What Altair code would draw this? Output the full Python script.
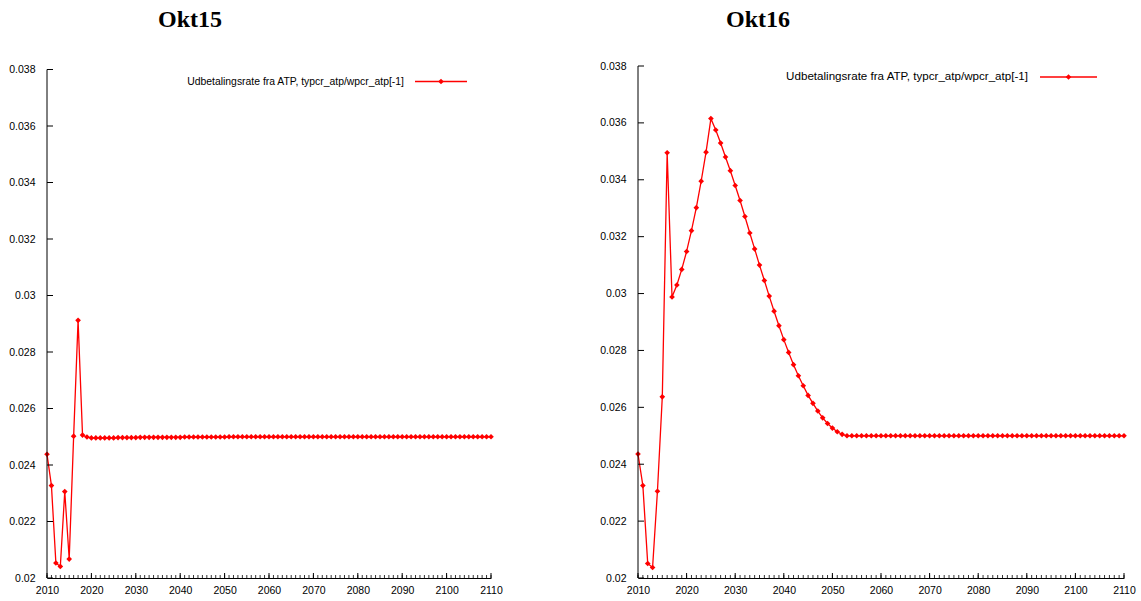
import altair as alt
import pandas as pd

# Payout rate from ATP, one value per year
years = list(range(2010, 2111))

okt15_rate = (
    [0.02438, 0.02327, 0.02053, 0.02041, 0.02306, 0.02067, 0.02502, 0.02912, 0.02506, 0.02499]
    + [0.02496] * 6
    + [0.02497] * 5
    + [0.02498] * 10
    + [0.02499] * 10
    + [0.025] * 60
)

okt16_rate = (
    [0.02436, 0.02325, 0.02051, 0.02037, 0.02305, 0.02637, 0.03495, 0.02988, 0.0303, 0.03085,
     0.03148, 0.03221, 0.03302, 0.03395, 0.03497, 0.03615, 0.03575, 0.03529, 0.0348, 0.03432,
     0.0338, 0.03327, 0.03271, 0.03213, 0.03157, 0.031, 0.03046, 0.02991, 0.02938, 0.02887,
     0.02838, 0.02793, 0.0275, 0.02711, 0.02676, 0.02642, 0.02614, 0.02587, 0.02563, 0.02543,
     0.02527, 0.02514, 0.02505, 0.025]
    + [0.025] * 57
)

x_ticks = list(range(2010, 2111, 10))
y_ticks = [0.02, 0.022, 0.024, 0.026, 0.028, 0.03, 0.032, 0.034, 0.036, 0.038]
series_label = "Udbetalingsrate fra ATP, typcr_atp/wpcr_atp[-1]"

RED = "#ff0000"
LABEL_FONT = "Liberation Sans"
TITLE_FONT = "Liberation Serif"
H = 512
LEFT_W, RIGHT_W, GAP = 444, 486, 147
PAD_L, PAD_T, PAD_R, PAD_B = 47, 66, 17, 23
MARKER = 32


def panel(rates, title, width, y_top, title_x, leg, tick_size, frame=False):
    df = pd.DataFrame({"year": years, "rate": rates})
    xs = alt.Scale(domain=[2010, 2110], nice=False, zero=False)
    ys = alt.Scale(domain=[0.02, y_top], nice=False, zero=False)

    x_axis = alt.Axis(values=x_ticks, format="d", ticks=False, tickSize=0,
                      grid=False, domain=True, domainColor="black", domainWidth=1,
                      labelFont=LABEL_FONT, labelFontSize=tick_size, labelColor="black",
                      labelPadding=7, labelFlush=False, labelOverlap=False)
    y_axis = alt.Axis(values=y_ticks, format="~g", ticks=False, tickSize=0,
                      grid=False, domain=False,
                      labelFont=LABEL_FONT, labelFontSize=tick_size, labelColor="black",
                      labelPadding=12, labelFlush=False, labelOverlap=False)

    line = alt.Chart(df).mark_line(
        color=RED, strokeWidth=1.3,
        point=alt.OverlayMarkDef(shape="diamond", filled=True, size=MARKER, color=RED),
    ).encode(
        x=alt.X("year:Q", scale=xs, title=None, axis=x_axis),
        y=alt.Y("rate:Q", scale=ys, title=None, axis=y_axis),
    )

    # left axis line from the lowest to the highest labelled value
    y_axis_line = alt.Chart(pd.DataFrame({"lo": [y_ticks[0]], "hi": [y_ticks[-1]]})).mark_rule(
        color="black", strokeWidth=1
    ).encode(
        x=alt.value(0),
        y=alt.Y("lo:Q", scale=ys, title=None, axis=y_axis),
        y2="hi:Q",
    )

    y_tick_marks = alt.Chart(pd.DataFrame({"v": y_ticks})).mark_rule(
        color="black", strokeWidth=1
    ).encode(
        y=alt.Y("v:Q", scale=ys, title=None, axis=y_axis),
        x=alt.value(0), x2=alt.value(6),
    )

    x_major = alt.Chart(pd.DataFrame({"v": x_ticks})).mark_rule(
        color="black", strokeWidth=1
    ).encode(
        x=alt.X("v:Q", scale=xs, title=None, axis=x_axis),
        y=alt.value(H), y2=alt.value(H - 5),
    )

    x_minor = alt.Chart(pd.DataFrame({"v": years})).mark_rule(
        color="black", strokeWidth=0.8
    ).encode(
        x=alt.X("v:Q", scale=xs, title=None, axis=x_axis),
        y=alt.value(H), y2=alt.value(H - 3),
    )

    heading = alt.Chart(pd.DataFrame({"t": [title]})).mark_text(
        font=TITLE_FONT, fontSize=24, fontWeight="bold", align="left",
        baseline="alphabetic", color="black",
    ).encode(text="t:N", x=alt.value(title_x), y=alt.value(-39))

    leg_text = alt.Chart(pd.DataFrame({"t": [series_label]})).mark_text(
        font=LABEL_FONT, fontSize=leg["size"], align="right", baseline="middle", color="black",
    ).encode(text="t:N", x=alt.value(leg["text_end"]), y=alt.value(leg["y"]))

    leg_line = alt.Chart(pd.DataFrame({"k": [0]})).mark_rule(
        color=RED, strokeWidth=1.3
    ).encode(x=alt.value(leg["x0"]), x2=alt.value(leg["x1"]), y=alt.value(leg["y"]))

    leg_point = alt.Chart(pd.DataFrame({"k": [0]})).mark_point(
        shape="diamond", filled=True, size=MARKER, color=RED, opacity=1
    ).encode(x=alt.value((leg["x0"] + leg["x1"]) / 2), y=alt.value(leg["y"]))

    layers = [line, x_minor, x_major, y_axis_line, y_tick_marks,
              heading, leg_text, leg_line, leg_point]

    if frame:
        # transparent page-sized backdrop that fixes the drawing's outer bounds
        backdrop = alt.Chart(pd.DataFrame({"k": [0]})).mark_rect(
            color="white", opacity=0, strokeWidth=0
        ).encode(
            x=alt.value(-PAD_L), x2=alt.value(LEFT_W + GAP + RIGHT_W + PAD_R),
            y=alt.value(-PAD_T), y2=alt.value(H + PAD_B),
        )
        layers = layers + [backdrop]

    return alt.layer(*layers).properties(width=width, height=H)


left = panel(
    okt15_rate, "Okt15", LEFT_W, 0.02 + 0.018 * 512 / 508.5, 111,
    {"size": 10.4, "text_end": 357, "y": 15.5, "x0": 368, "x1": 420},
    tick_size=10.5, frame=True,
)
right = panel(
    okt16_rate, "Okt16", RIGHT_W, 0.038, 88,
    {"size": 11.6, "text_end": 390, "y": 11, "x0": 402, "x1": 459},
    tick_size=10.5,
)

chart = alt.hconcat(left, right, spacing=GAP, bounds="flush").properties(
    autosize=alt.AutoSizeParams(type="pad"),
    padding=0,
    background="white",
).configure_view(stroke=None)

chart.save("out.html", embed_options={"renderer": "svg", "actions": False})
